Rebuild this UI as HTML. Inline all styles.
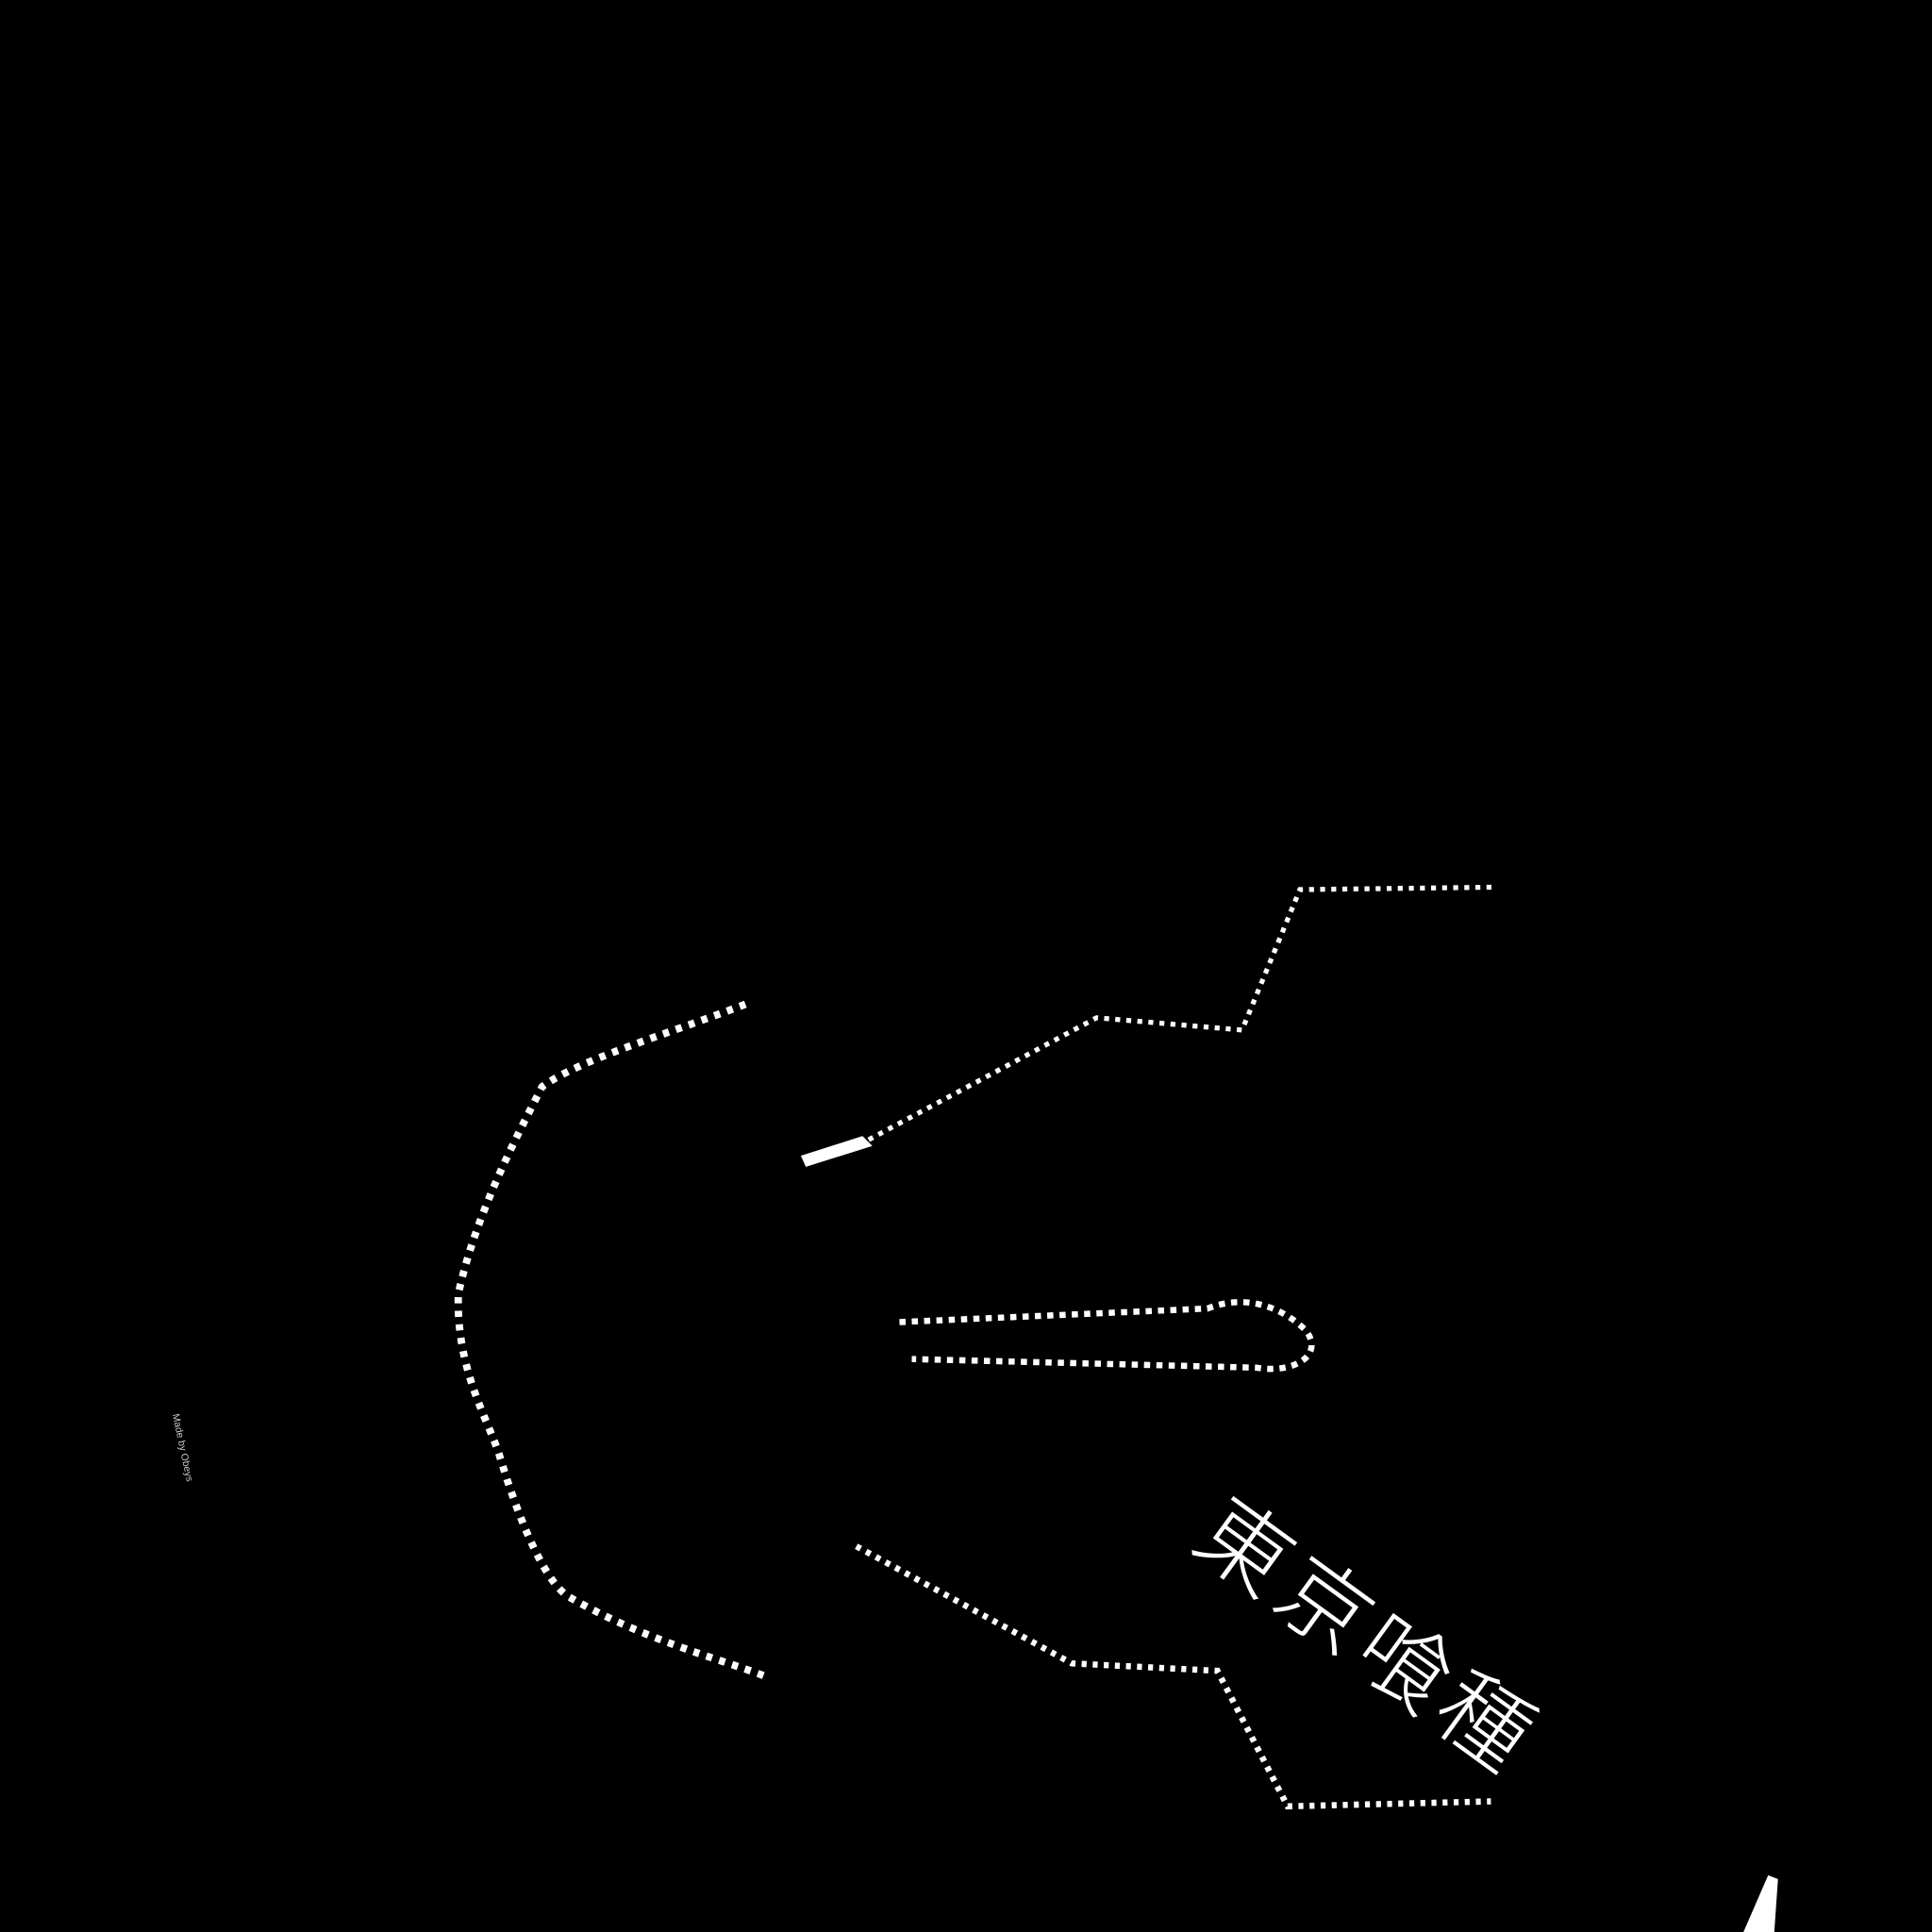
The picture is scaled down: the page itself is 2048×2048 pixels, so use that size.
<!DOCTYPE html>
<html><head><meta charset="utf-8"><style>
html,body{margin:0;padding:0;background:#000;width:2048px;height:2048px;overflow:hidden}
svg{display:block}
</style></head><body>
<svg width="2048" height="2048" viewBox="0 0 1568 1568" xmlns="http://www.w3.org/2000/svg">
<rect width="1568" height="1568" fill="#000"/>
<g fill="none" stroke="#fff" stroke-linecap="butt">
<path d="M605 815 C540 840 470 860 440 882 C415 930 385 990 372 1050 C370 1110 395 1150 405 1180 C420 1230 440 1280 460 1295 C520 1330 580 1345 620 1360" stroke-width="6" stroke-dasharray="5 6"/>
<path d="M705 925 L890 826 L1008 836 L1055 722 L1215 720" stroke-width="4" stroke-dasharray="4 5"/>
<path d="M730 1073 L980 1062 C1010 1050 1040 1060 1060 1080 C1075 1100 1050 1115 1020 1110 L740 1103" stroke-width="5" stroke-dasharray="5 5"/>
<path d="M695 1255 L870 1350 L988 1356 L1045 1466 L1210 1462" stroke-width="5" stroke-dasharray="4 5"/>
</g>
<polygon points="650,938 700,922 708,930 654,947" fill="#fff"/>
<polygon points="1415,1568 1435,1522 1443,1525 1440,1568" fill="#fff"/>
<text x="0" y="0" transform="translate(965,1255) rotate(36)" font-family="'Liberation Sans','Noto Sans CJK JP',sans-serif" font-size="74" font-weight="300" fill="#fff" letter-spacing="6">東京喰種</text>
<text x="0" y="0" transform="translate(140,1148) rotate(78)" font-family="'Liberation Sans',sans-serif" font-size="8" fill="#ccc">Made by Obeys</text>
</svg>
</body></html>
